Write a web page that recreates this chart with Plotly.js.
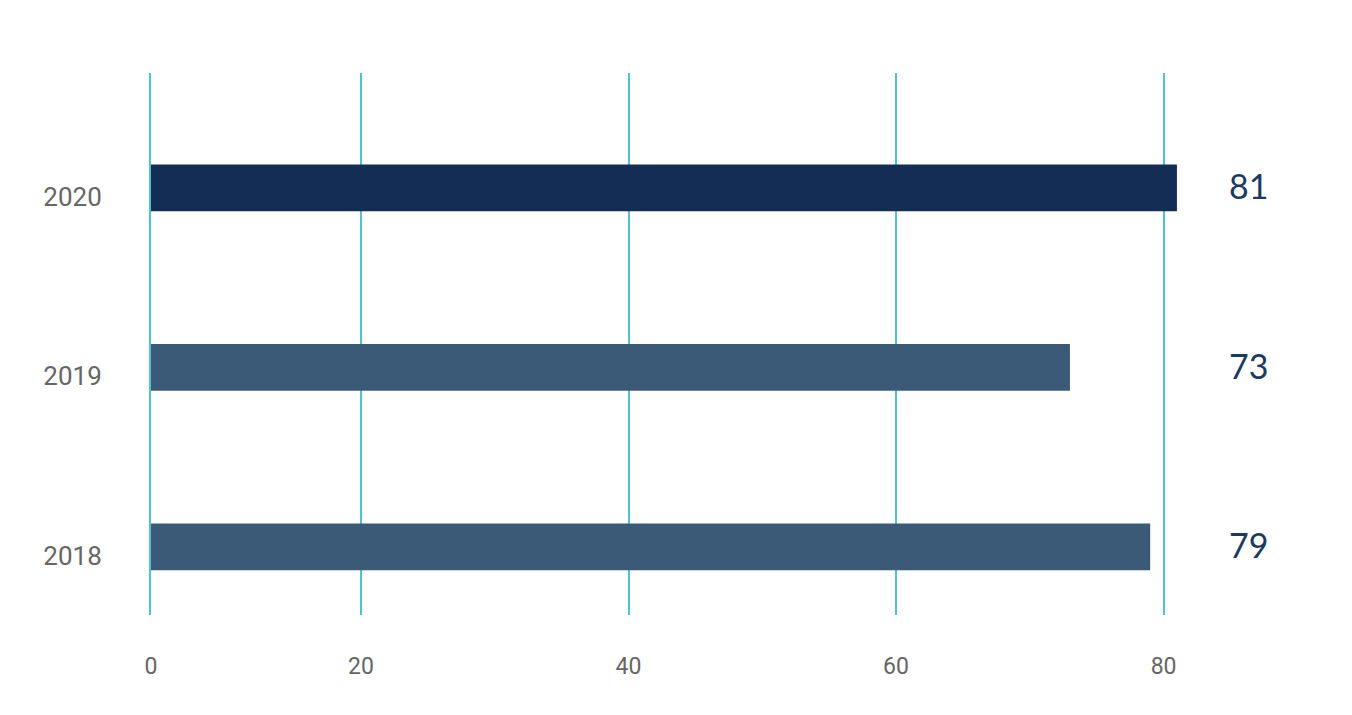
<!DOCTYPE html>
<html>
<head>
<meta charset="utf-8">
<script src="https://cdn.plot.ly/plotly-3.0.1.min.js"></script>
<style>html,body{margin:0;padding:0;background:#fff;}#chart{width:1352px;height:715px;}</style>
</head>
<body>
<div id="chart"></div>
<script>
var years = ['2018', '2019', '2020'];
var values = [79, 73, 81];
var valueLabels = ['79', '73', '81'];
var barColors = ['#3b5a77', '#3b5a77', '#132d55'];
var tickVals = [4.3, 20, 40, 60, 80];
var tickText = ['0', '20', '40', '60', '80'];

var trace = {
  type: 'bar',
  orientation: 'h',
  y: years,
  x: values,
  width: 0.26,
  marker: {color: barColors},
  hoverinfo: 'x+y'
};

var annotations = years.map(function (y, i) {
  return {
    x: 0.955, xref: 'paper', y: i, yref: 'y',
    text: valueLabels[i], showarrow: false, yshift: 2,
    font: {family: 'Lato, "Open Sans", sans-serif', size: 34, color: '#1c3a5e'},
    xanchor: 'center', yanchor: 'middle'
  };
});

var tickFontFamily = 'Roboto, "DejaVu Sans Condensed", sans-serif';

var layout = {
  width: 1352, height: 715,
  margin: {l: 151, r: 52, t: 73, b: 100},
  paper_bgcolor: '#ffffff', plot_bgcolor: '#ffffff',
  showlegend: false,
  xaxis: {
    range: [4.3, 90.2],
    tickvals: tickVals, ticktext: tickText,
    showgrid: true, gridcolor: '#4fc3d0', gridwidth: 2,
    zeroline: false, showline: false, ticks: '',
    ticklabelstandoff: 35,
    tickfont: {family: tickFontFamily, size: 23, color: '#666666'}
  },
  yaxis: {
    type: 'category',
    range: [-0.38, 2.64],
    showgrid: false, zeroline: false,
    showline: true, linecolor: '#4fc3d0', linewidth: 2,
    ticks: '',
    ticklabelstandoff: 42,
    ticklabelshift: 9,
    tickfont: {family: tickFontFamily, size: 26, color: '#666666'}
  },
  annotations: annotations
};

Plotly.newPlot('chart', [trace], layout, {displayModeBar: false, staticPlot: true});
</script>
</body>
</html>
